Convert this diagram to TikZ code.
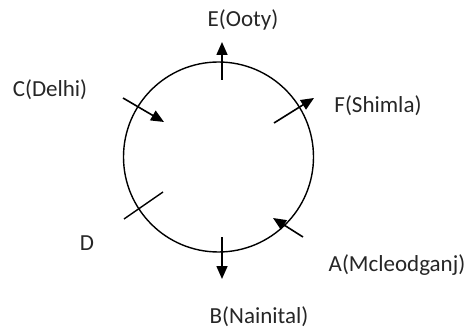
\documentclass[tikz,border=0pt]{standalone}
\usepackage{fontspec}
\setmainfont{Carlito}
\usetikzlibrary{arrows.meta}
\begin{document}
\begin{tikzpicture}[x=1pt,y=-1pt,
  lbl/.style={font=\fontsize{23}{27}\selectfont, text=black!85, inner sep=0pt},
  arr/.style={line width=1.6pt, -{Triangle[length=13pt,width=11pt]}},
  ring/.style={draw, line width=1.4pt}]
\useasboundingbox (0,0) rectangle (471,331);
\node[ring, circle, minimum size=190pt, inner sep=0pt] (ring) at (218.5,157) {};
\node[lbl] (E) at (243,20) {E(Ooty)};
\node[lbl] (F) at (378,106) {F(Shimla)};
\node[lbl] (C) at (50,90) {C(Delhi)};
\node[lbl] (D) at (87,243) {D};
\node[lbl] (A) at (397,265) {A(Mcleodganj)};
\node[lbl] (B) at (259,317) {B(Nainital)};
\coordinate (e0) at (222,80); \coordinate (e1) at (222,42);
\coordinate (b0) at (222,237); \coordinate (b1) at (222,279);
\coordinate (c0) at (123,98); \coordinate (c1) at (164,122);
\coordinate (f0) at (274,123); \coordinate (f1) at (314,98);
\coordinate (a0) at (303,237); \coordinate (a1) at (273,218);
\coordinate (d0) at (124,219); \coordinate (d1) at (163,192);
\draw[arr] (e0) -- (e1);
\draw[arr] (b0) -- (b1);
\draw[arr] (c0) -- (c1);
\draw[arr] (f0) -- (f1);
\draw[arr] (a0) -- (a1);
\draw[line width=1.4pt] (d0) -- (d1);
\end{tikzpicture}
\end{document}
